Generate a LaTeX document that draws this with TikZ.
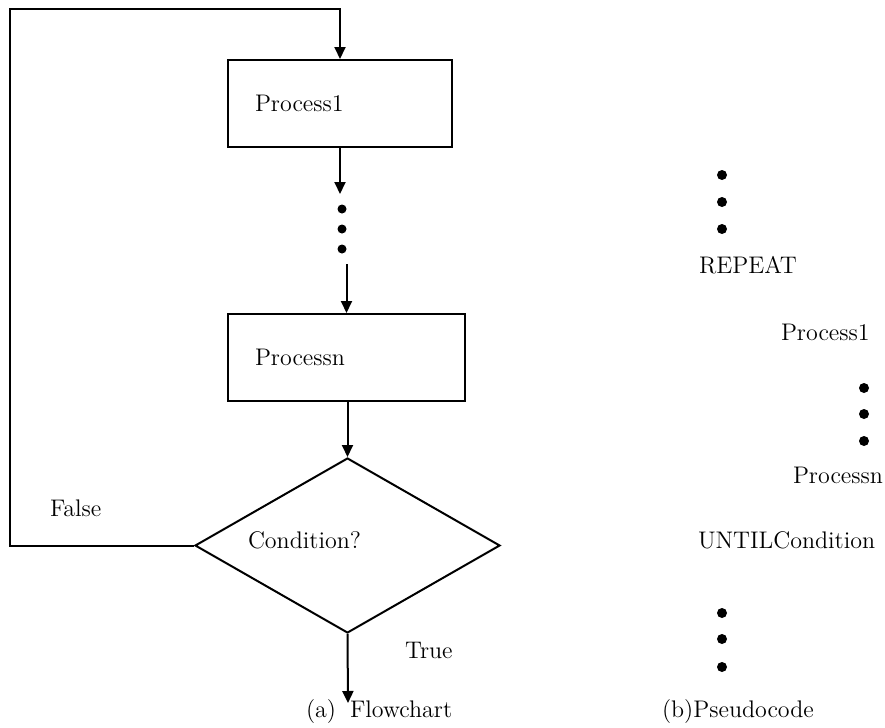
\documentclass[tikz,border=0pt]{standalone}
\usepackage{tikz}
\usetikzlibrary{arrows.meta,positioning,shapes.geometric}

\begin{document}
\begin{tikzpicture}[x=0.5pt, y=-0.5pt, line width=1pt,
  every node/.style={font=\fontsize{12}{14}\selectfont},
  procbox/.style={draw, rectangle, minimum height=43.5pt, inner xsep=13.5pt, align=left},
  decision/.style={draw, diamond, minimum width=152.5pt, minimum height=87.5pt, inner sep=0pt},
  txt/.style={anchor=west, inner sep=0pt},
  dot/.style={circle, fill, inner sep=0pt, minimum size=4.5pt},
  flow/.style={-{Triangle[length=6pt,width=5.5pt]}}]
  \useasboundingbox (0,0) rectangle (885,728);

  % (a) flowchart
  \node[procbox, text width=85pt] (p1) at (340,103.5) {Process1};
  \foreach \y/\n in {209/1,229/2,249/3}{\node[dot] (fd\n) at (342,\y) {};}
  \node[procbox, text width=91.5pt] (pn) at (346.5,357.5) {Processn};
  \node[decision] (cond) at (347.5,545.5) {};
  \node[txt] (condtxt) at (247,540) {Condition?};
  \coordinate (corner) at (10,9);
  \coordinate (exit) at (348,703);

  \draw[flow, shorten >=4.75pt] (p1.south) -- (p1.south |- fd1.north);
  \draw[flow, shorten <=4.75pt] (pn.north |- fd3.south) -- (pn.north);
  \draw[flow] (pn.south -| cond.north) -- (cond.north);
  \draw[flow] (cond.west) -| (corner) -| (p1.north);
  \draw[flow] (cond.south) -- (exit);

  \node[txt] (false) at (49,508) {False};
  \node[txt] (true) at (404,650) {True};
  \node[txt] (capa) at (305,712) {(a)\hspace{7pt}Flowchart};

  % (b) pseudocode
  \foreach \y/\n in {175/1,202/2,229/3}{\node[dot, minimum size=5pt] (ra\n) at (722,\y) {};}
  \node[txt] (rep) at (698,265) {REPEAT};
  \node[txt] (rp1) at (780,332) {Process1};
  \foreach \y/\n in {388/1,414/2,441/3}{\node[dot, minimum size=5pt] (rb\n) at (864,\y) {};}
  \node[txt] (rpn) at (792,475) {Processn};
  \node[txt] (until) at (697,540) {UNTILCondition};
  \foreach \y/\n in {613/1,639/2,667/3}{\node[dot, minimum size=5pt] (rc\n) at (722,\y) {};}
  \node[txt] (capb) at (661,712) {(b)Pseudocode};
\end{tikzpicture}
\end{document}
